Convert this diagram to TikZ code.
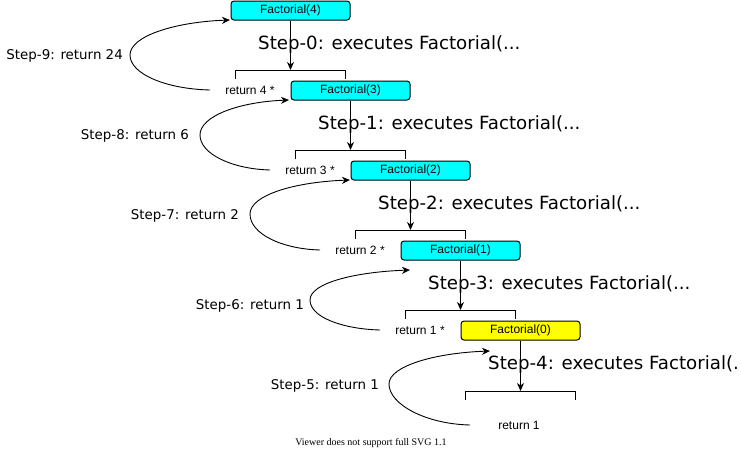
\documentclass[tikz,border=0pt]{standalone}
\usepackage{fontspec}
\setmainfont{Liberation Sans}
\newfontfamily\dvfont{DejaVu Sans}
\newfontfamily\serfont{Liberation Serif}
\usetikzlibrary{arrows.meta}
\definecolor{boxcyan}{HTML}{00FFFF}
\definecolor{boxyellow}{HTML}{FFFF00}
\tikzset{
  fbox/.style={draw=black, line width=1pt, rounded corners=3pt, fill=boxcyan,
    minimum width=119pt, minimum height=19pt, inner sep=0pt,
    font=\fontsize{12}{14}\selectfont},
  rettext/.style={inner sep=0pt, font=\fontsize{12}{14}\selectfont},
  steptext/.style={inner sep=0pt, anchor=west, yshift=-1pt, font=\dvfont\fontsize{18.2}{20}\selectfont},
  backtext/.style={inner sep=0pt, anchor=east, yshift=-1.5pt, font=\dvfont\fontsize{13.4}{15}\selectfont},
  arr/.style={line width=1pt, -{Stealth[length=8pt,width=7pt,inset=2.5pt]}},
  brk/.style={line width=1pt},
  curv/.style={line width=0.9pt, -{Stealth[length=8pt,width=7pt,inset=2.5pt]}},
}
\begin{document}
\begin{tikzpicture}[x=1pt,y=-1pt]
\useasboundingbox (0,0) rectangle (741,451);
% boxes
\node[fbox] (f4) at (290.5,10.5) {Factorial(4)};
\node[fbox] (f3) at (350.5,90.5) {Factorial(3)};
\node[fbox] (f2) at (410.5,170.5) {Factorial(2)};
\node[fbox] (f1) at (460.5,250.5) {Factorial(1)};
\node[fbox, fill=boxyellow] (f0) at (520.5,330.5) {Factorial(0)};
% bracket tops
\coordinate (b4) at (290.5,70);
\coordinate (b3) at (350.5,150);
\coordinate (b2) at (410.5,230);
\coordinate (b1) at (460.5,310);
\coordinate (b0) at (520.5,391);
% return texts
\node[rettext] (r4) at (250,90) {return 4 *};
\node[rettext] (r3) at (310,170) {return 3 *};
\node[rettext] (r2) at (360,250) {return 2 *};
\node[rettext] (r1) at (420,330) {return 1 *};
\node[rettext] (r0) at (519,425) {return 1};
% brackets
\foreach \b in {b4,b3,b2,b1,b0}{
  \draw[brk] ([shift={(-55,9)}]\b) -- ([shift={(-55,0)}]\b) -- ([shift={(55,0)}]\b) -- ([shift={(55,9)}]\b);
}
% vertical arrows
\draw[arr] (f4.south) -- (b4);
\draw[arr] (f3.south) -- (b3);
\draw[arr] (f2.south) -- (b2);
\draw[arr] (f1.south) -- (b1);
\draw[arr] (f0.south) -- (b0);
% return curve targets and turning points
\coordinate (e9) at (230,20);  \coordinate (l9) at (130,55);
\coordinate (e8) at (289,100); \coordinate (l8) at (200,135);
\coordinate (e7) at (350,180); \coordinate (l7) at (250,214);
\coordinate (e6) at (410,270); \coordinate (l6) at (310,300);
\coordinate (e5) at (490,351); \coordinate (l5) at (389,384);
% return curves
\draw[curv] ([xshift=-15pt]r4.west) .. controls +(-44,-1) and +(0,19) .. (l9)
   .. controls +(0,-19) and +(-55,2) .. (e9);
\draw[curv] ([xshift=-15pt]r3.west) .. controls +(-38,-1) and +(0,19) .. (l8)
   .. controls +(0,-19) and +(-50,2) .. (e8);
\draw[curv] ([xshift=-15pt]r2.west) .. controls +(-38,-1) and +(0,20) .. (l7)
   .. controls +(0,-19) and +(-55,2) .. (e7);
\draw[curv] ([xshift=-15pt]r1.west) .. controls +(-38,-1) and +(0,17) .. (l6)
   .. controls +(0,-17) and +(-55,2) .. (e6);
\draw[curv] ([xshift=-28pt]r0.west) .. controls +(-45,-1) and +(0,20) .. (l5)
   .. controls +(0,-18) and +(-55,2) .. (e5);
% step labels (descending)
\node[steptext] (s0) at (258,43.5) {Step-0: executes Factorial(...};
\node[steptext] (s1) at (318,123.5) {Step-1: executes Factorial(...};
\node[steptext] (s2) at (378,203.5) {Step-2: executes Factorial(...};
\node[steptext] (s3) at (428,283.5) {Step-3: executes Factorial(...};
\node[steptext] (s4) at (488,363.5) {Step-4: executes Factorial(.};
% step labels (returning)
\node[backtext] (s9) at (123,54) {Step-9: return 24};
\node[backtext] (s8) at (189,134) {Step-8: return 6};
\node[backtext] (s7) at (239,214) {Step-7: return 2};
\node[backtext] (s6) at (304,304) {Step-6: return 1};
\node[backtext] (s5) at (379,384) {Step-5: return 1};
% footer
\node[inner sep=0pt, font=\serfont\fontsize{10}{12}\selectfont] (foot) at (371,443) {Viewer does not support full SVG 1.1};
\end{tikzpicture}
\end{document}
